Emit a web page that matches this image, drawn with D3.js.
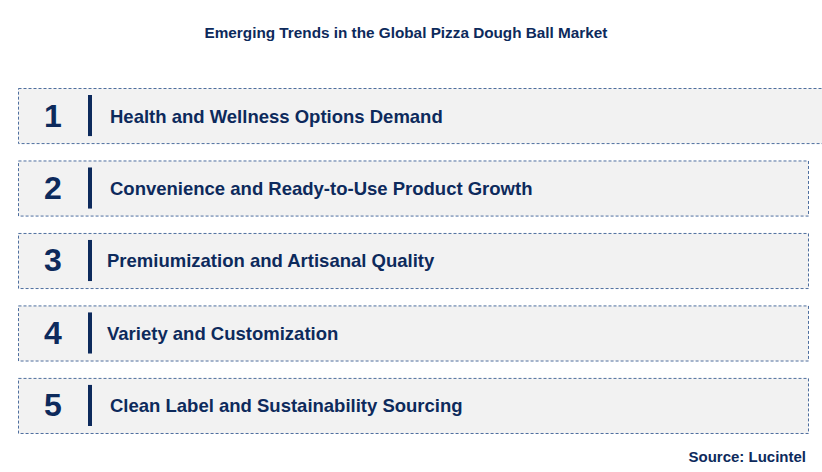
<!DOCTYPE html>
<html><head><meta charset="utf-8">
<script src="https://cdn.jsdelivr.net/npm/d3@7"></script>
<style>body{margin:0;background:#fff}</style>
</head><body><svg id="c"></svg>
<script>
const title = "Emerging Trends in the Global Pizza Dough Ball Market";
const ranks = [1, 2, 3, 4, 5];
const trends = [
  "Health and Wellness Options Demand",
  "Convenience and Ready-to-Use Product Growth",
  "Premiumization and Artisanal Quality",
  "Variety and Customization",
  "Clean Label and Sustainability Sourcing"
];
const source = "Source: Lucintel";

const w = 822, h = 472;
const navy = "#0d2a5c";
const svg = d3.select("#c").attr("width", w).attr("height", h)
  .style("font-family", "Arial, 'Liberation Sans', sans-serif");

svg.append("text").attr("x", 406).attr("y", 38).attr("text-anchor", "middle")
  .attr("font-size", 15.3).attr("font-weight", "bold").attr("fill", navy).text(title);

const y = d3.scaleBand().domain(ranks).range([88, 433]).paddingInner(0.24).paddingOuter(0);

const g = svg.selectAll("g.row").data(ranks).enter().append("g")
  .attr("transform", d => `translate(0,${y(d)})`);

g.append("rect").attr("x", 18.5).attr("y", 0.5)
  .attr("width", (d, i) => i === 0 ? 818 : 790).attr("height", y.bandwidth())
  .attr("fill", "#f2f2f2").attr("stroke", "#4f6f9f").attr("stroke-width", 1)
  .attr("stroke-dasharray", "3,2");

g.append("text").attr("x", 53).attr("y", y.bandwidth() / 2 + 11)
  .attr("text-anchor", "middle").attr("font-size", 32).attr("font-weight", "bold")
  .attr("fill", navy).text(d => d);

g.append("rect").attr("x", 88).attr("y", 7).attr("width", 4)
  .attr("height", y.bandwidth() - 14).attr("fill", navy);

g.append("text").attr("x", (d, i) => i >= 2 && i <= 3 ? 107 : 110)
  .attr("y", y.bandwidth() / 2 + 7).attr("font-size", 18.5).attr("font-weight", "bold")
  .attr("fill", navy).text((d, i) => trends[i]);

svg.append("text").attr("x", 806).attr("y", 462).attr("text-anchor", "end")
  .attr("font-size", 15).attr("font-weight", "bold").attr("fill", navy).text(source);
</script></body></html>
